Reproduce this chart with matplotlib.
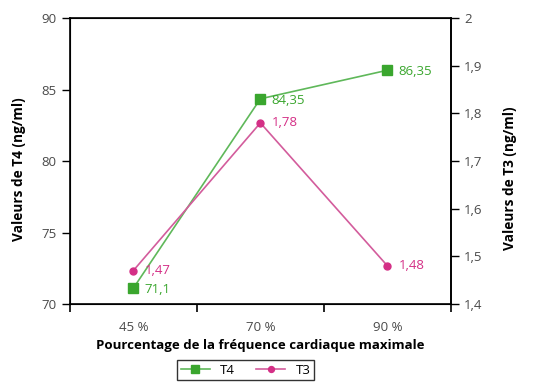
import matplotlib.pyplot as plt
from matplotlib.ticker import FixedLocator, NullFormatter

plt.rcParams['font.family'] = ['Open Sans', 'DejaVu Sans']

categories = ['45 %', '70 %', '90 %']
t4 = [71.1, 84.35, 86.35]
t3 = [1.47, 1.78, 1.48]
t4_labels = ['71,1', '84,35', '86,35']
t3_labels = ['1,47', '1,78', '1,48']
left_ticks = [70, 75, 80, 85, 90]
right_ticks = [1.4, 1.5, 1.6, 1.7, 1.8, 1.9, 2.0]
right_ticklabels = ['1,4', '1,5', '1,6', '1,7', '1,8', '1,9', '2']

green_m, green_l = '#3aa62e', '#5fb85a'
pink_m, pink_l = '#d42f86', '#d35c9c'
tick_col = '#4a4a4a'

fig = plt.figure(figsize=(5.45, 3.92), dpi=100)
ax = fig.add_axes([0.128, 0.2245, 0.6995, 0.7295])
ax2 = ax.twinx()

x = list(range(len(categories)))

l1, = ax.plot(x, t4, color=green_l, lw=1.2, marker='s', ms=7,
              mfc=green_m, mec=green_m, label='T4', zorder=3)
l2, = ax2.plot(x, t3, color=pink_l, lw=1.2, marker='o', ms=5,
               mfc=pink_m, mec=pink_m, label='T3', zorder=3)

for xi, v, s in zip(x, t4, t4_labels):
    ax.annotate(s, (xi, v), xytext=(8, -1), textcoords='offset points',
                va='center', ha='left', color=green_m, fontsize=9.5)
for xi, v, s in zip(x, t3, t3_labels):
    ax2.annotate(s, (xi, v), xytext=(8, 0), textcoords='offset points',
                 va='center', ha='left', color=pink_m, fontsize=9.5)

ax.set_xlim(-0.5, 2.5)
ax.set_ylim(70, 90)
ax2.set_ylim(1.4, 2.0)

# ticks at category boundaries, labels at centres
ax.xaxis.set_major_locator(FixedLocator([-0.5, 0.5, 1.5, 2.5]))
ax.xaxis.set_major_formatter(NullFormatter())
ax.xaxis.set_minor_locator(FixedLocator(x))
ax.set_xticklabels(categories, minor=True)
ax.tick_params(axis='x', which='minor', length=0, pad=12, labelsize=9.5, labelcolor=tick_col)
ax.tick_params(axis='x', which='major', length=6, width=1.2, direction='out')

ax.set_yticks(left_ticks)
ax.tick_params(axis='y', length=6, width=1, direction='out', labelsize=9.5, labelcolor=tick_col)
ax2.set_yticks(right_ticks)
ax2.set_yticklabels(right_ticklabels)
ax2.tick_params(axis='y', length=6, width=1, direction='out', labelsize=9.5, labelcolor=tick_col)

for sp in ax.spines.values():
    sp.set_linewidth(1.2)
ax2.spines['right'].set_linewidth(1.2)

ax.set_xlabel('Pourcentage de la fréquence cardiaque maximale', fontsize=9.5,
              fontweight='bold', labelpad=4)
ax.set_ylabel('Valeurs de T4 (ng/ml)', fontsize=9.8, fontweight='bold')
ax.yaxis.set_label_coords(-0.115, 0.47)
ax2.set_ylabel('Valeurs de T3 (ng/ml)', fontsize=9.8, fontweight='bold', rotation=90)
ax2.yaxis.set_label_coords(1.137, 0.44)

leg = fig.legend(handles=[l1, l2], loc='center', bbox_to_anchor=(0.4505, 0.056),
                 ncol=2, fontsize=9.5, frameon=True, fancybox=False,
                 edgecolor='black', handlelength=2.2, columnspacing=1.6,
                 borderpad=0.25, markerscale=0.85)
leg.get_frame().set_linewidth(1.0)

fig.savefig('out.png', dpi=100)
